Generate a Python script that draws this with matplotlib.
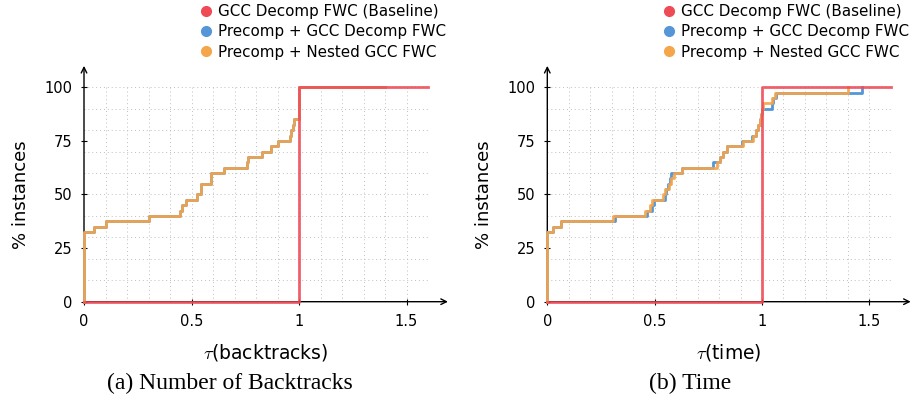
import matplotlib
matplotlib.use("Agg")
import matplotlib.pyplot as plt
from matplotlib.lines import Line2D

plt.rcParams['font.family'] = ['DejaVu Sans']
plt.rcParams['mathtext.fontset'] = 'cm'

# ---------------- data ----------------
series_names = ["GCC Decomp FWC (Baseline)", "Precomp + GCC Decomp FWC", "Precomp + Nested GCC FWC"]
colors = ["#EE4B57", "#5596D8", "#F5A54A"]

# Baseline (both panels)
base_x = [0, 1.0, 1.6]
base_y = [0, 100, 100]

# Panel (a) Number of backtracks (blue and orange coincide)
bt_x = [0, 0, 0.047, 0.10, 0.30, 0.447, 0.455, 0.474, 0.524, 0.544, 0.589, 0.653,
        0.760, 0.765, 0.826, 0.871, 0.90, 0.958, 0.965, 0.971, 0.977, 1.0, 1.4]
bt_y = [0, 32.5, 35, 37.5, 40, 42.5, 45, 47.5, 50, 55, 60, 62.5,
        65, 67.5, 70, 72.5, 75, 77.5, 80, 82.5, 85, 100, 100]

# Panel (b) Time
tm_blue_x = [0, 0, 0.028, 0.062, 0.317, 0.465, 0.49, 0.495, 0.55, 0.555, 0.56, 0.572, 0.577,
             0.626, 0.771, 0.804, 0.82, 0.836, 0.905, 0.955, 0.97, 0.98, 0.99, 0.995, 1.0,
             1.045, 1.053, 1.064, 1.464]
tm_blue_y = [0, 32.5, 35, 37.5, 40, 42.5, 45, 47.5, 50, 52.5, 55, 57.5, 60,
             62.5, 65, 67.5, 70, 72.5, 75, 77.5, 80, 82.5, 85, 87.5, 90,
             92.5, 95, 97.5, 100]
tm_orange_x = [0, 0, 0.028, 0.062, 0.307, 0.455, 0.478, 0.486, 0.540, 0.548, 0.565, 0.575, 0.590,
               0.626, 0.789, 0.804, 0.820, 0.836, 0.912, 0.960, 0.972, 0.983, 0.991, 0.995, 0.999,
               1.005, 1.045, 1.06, 1.40]
tm_orange_y = [0, 32.5, 35, 37.5, 40, 42.5, 45, 47.5, 50, 52.5, 55, 57.5, 60,
               62.5, 65, 67.5, 70, 72.5, 75, 77.5, 80, 82.5, 85, 87.5, 90,
               92.5, 95, 97.5, 100]

x_ticks = [0, 0.5, 1, 1.5]
x_tick_labels = ["0", "0.5", "1", "1.5"]
y_ticks = [0, 25, 50, 75, 100]
y_tick_labels = ["0", "25", "50", "75", "100"]

xlabels = [r"$\tau$(backtracks)", r"$\tau$(time)"]
captions = ["(a) Number of Backtracks", "(b) Time"]

W, H = 911, 411
fig = plt.figure(figsize=(W / 100, H / 100), dpi=100)

ax_h = 214.4 / H
ax_b = (H - 301.7) / H
axes = [fig.add_axes([84 / W, ax_b, 344 / W, ax_h]),
        fig.add_axes([547.3 / W, ax_b, 343.5 / W, ax_h])]

panels = [
    [(bt_x, bt_y), (bt_x, bt_y)],
    [(tm_blue_x, tm_blue_y), (tm_orange_x, tm_orange_y)],
]

for i, ax in enumerate(axes):
    ax.set_xlim(0, 1.6)
    ax.set_ylim(0, 100)
    for s in ax.spines.values():
        s.set_visible(False)
    # dotted grid
    for gx in [k / 10 for k in range(1, 17)]:
        ax.plot([gx, gx], [0, 100], color="#bdbdbd", lw=0.7, ls=(0, (1, 3)), zorder=0)
    for gy in range(10, 101, 10):
        ax.plot([0, 1.6], [gy, gy], color="#bdbdbd", lw=0.7, ls=(0, (1, 3)), zorder=0)

    (bx, by), (ox, oy) = panels[i]
    ax.plot(bx, by, drawstyle="steps-post", color=colors[1], lw=2, zorder=2, clip_on=False)
    ax.plot(ox, oy, drawstyle="steps-post", color=colors[2], lw=2, alpha=0.92, zorder=3, clip_on=False)
    ax.plot(base_x, base_y, drawstyle="steps-post", color=colors[0], lw=2, alpha=0.88, zorder=4,
            clip_on=False)

    # axis arrows
    ax.annotate("", xy=(1.058, 0), xytext=(0, 0), xycoords="axes fraction",
                arrowprops=dict(arrowstyle="->", lw=1.0, color="black", shrinkA=0, shrinkB=0),
                zorder=1)
    ax.annotate("", xy=(0, 1.10), xytext=(0, 0), xycoords="axes fraction",
                arrowprops=dict(arrowstyle="->", lw=1.0, color="black", shrinkA=0, shrinkB=0),
                zorder=1)

    ax.set_xticks(x_ticks)
    ax.set_xticklabels(x_tick_labels)
    ax.set_yticks(y_ticks)
    ax.set_yticklabels(y_tick_labels)
    ax.tick_params(direction="inout", length=5, width=0.8, labelsize=10.5, pad=6, color="black")
    ax.set_xlabel(xlabels[i], fontsize=13.5, labelpad=8)
    ax.xaxis.set_label_coords(1.058 / 2, -0.19)
    ax.set_ylabel("% instances", fontsize=13)
    ax.yaxis.set_label_coords(-0.157, 0.5)

    handles = [Line2D([], [], ls="", marker="o", markersize=7, color=c) for c in colors]
    ax.legend(handles, series_names, loc="lower left", bbox_to_anchor=(0.34, 1.129),
              frameon=False, borderpad=0, borderaxespad=0, handlelength=0.7,
              handletextpad=0.4, labelspacing=0.35, fontsize=10.9)

fig.text(229.5 / W, 1 - 383 / H, captions[0], ha="center", va="center",
         family="Liberation Serif", fontsize=17)
fig.text(690 / W, 1 - 383 / H, captions[1], ha="center", va="center",
         family="Liberation Serif", fontsize=17)

fig.savefig("out.png", dpi=100)
